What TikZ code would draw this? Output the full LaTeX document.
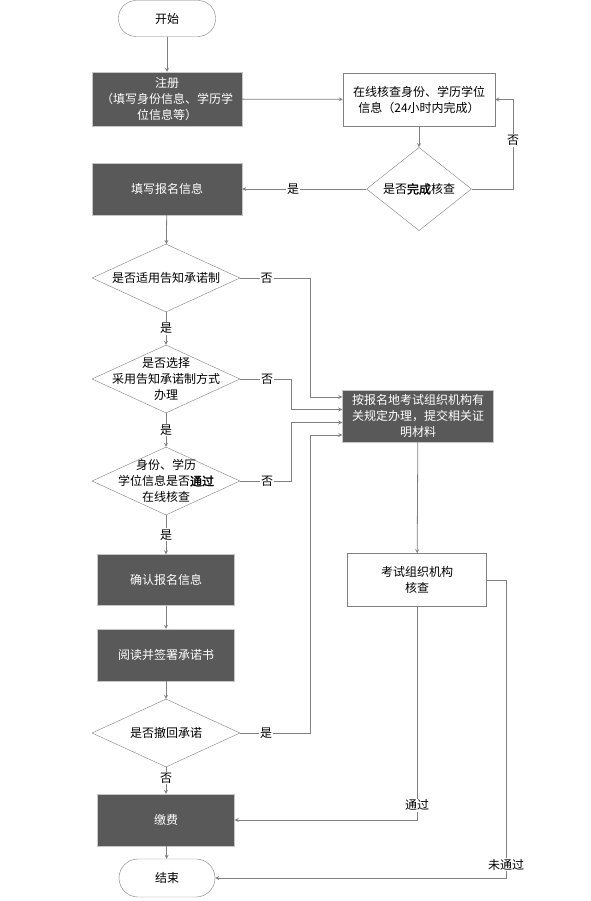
\documentclass[tikz,border=0pt]{standalone}
\usepackage{fontspec}
\setmainfont{Noto Sans CJK SC}[AutoFakeBold=2]
\usetikzlibrary{shapes.geometric}
\definecolor{boxgray}{HTML}{595959}
\definecolor{linegray}{HTML}{808080}

\begin{document}
\begin{tikzpicture}[x=1pt, y=-1pt,
  every node/.style={font=\fontsize{12}{16}\selectfont},
  flow/.style={draw=linegray, line width=0.8pt, -stealth},
  darkbox/.style={rectangle, fill=boxgray, draw=gray!45, text=white, align=center, inner sep=0pt},
  litebox/.style={rectangle, fill=white, draw=linegray, align=center, inner sep=0pt},
  term/.style={rectangle, rounded corners=17.5pt, draw=linegray, fill=white, minimum width=97pt, minimum height=36pt},
  ask/.style={diamond, draw=linegray, fill=white, inner sep=0pt, minimum width=148pt, minimum height=68pt, label={[align=center]center:#1}},
  lbl/.style={fill=white, inner sep=1pt}
]
  \useasboundingbox (0,0) rectangle (590,901);
  \node[term] (start) at (167,18.5) {开始};
  \node[darkbox, minimum width=150pt, minimum height=54pt] (reg) at (167,99) {注册\\（填写身份信息、学历学\\位信息等）};
  \node[litebox, minimum width=152pt, minimum height=53pt] (chk) at (419,99.5) {在线核查身份、学历学位\\信息（24小时内完成）};
  \node[diamond, draw=linegray, fill=white, inner sep=0pt, minimum width=105pt, minimum height=64pt] (done) at (419,189) {是否\textbf{完成}核查};
  \node[darkbox, minimum width=150pt, minimum height=52pt] (fill) at (167,189) {填写报名信息};
  \node[ask={是否适用告知承诺制}] (q1) at (166,278) {};
  \node[ask={是否选择\\采用告知承诺制方式\\办理}] (q2) at (166,379) {};
  \node[ask={身份、学历\\学位信息是否\textbf{通过}\\在线核查}] (q3) at (166,481) {};
  \node[darkbox, minimum width=137pt, minimum height=51pt] (conf) at (166,580) {确认报名信息};
  \node[darkbox, minimum width=137pt, minimum height=52pt] (read) at (166,655) {阅读并签署承诺书};
  \node[ask={是否撤回承诺}] (q4) at (166,733) {};
  \node[darkbox, minimum width=137pt, minimum height=52pt] (pay) at (166,820) {缴费};
  \node[term, minimum width=96pt, minimum height=38pt, rounded corners=19pt] (end) at (167,878) {结束};
  \node[darkbox, minimum width=151pt, minimum height=52pt] (local) at (418,416) {按报名地考试组织机构有\\关规定办理，提交相关证\\明材料};
  \node[litebox, minimum width=139pt, minimum height=53pt] (org) at (417,580) {考试组织机构\\核查};
  \coordinate (in1) at ([yshift=19pt]local.west);
  \coordinate (in2) at ([yshift=6.5pt]local.west);
  \coordinate (in3) at ([yshift=-6.5pt]local.west);
  \coordinate (in4) at ([yshift=-19pt]local.west);

  \draw[flow] (start) -- (reg);
  \draw[flow] (reg) -- (chk);
  \draw[flow] (chk) -- (done);
  \draw[flow] (done.east) -- (513,189) -- (513,99.5) node[lbl, pos=0.54] {否} -- (chk.east);
  \draw[flow] (done.west) -- (fill.east) node[lbl, pos=0.59] {是};
  \draw[flow] (fill) -- (q1);
  \draw[flow] (q1.east) -- (310,278) node[lbl, pos=0.38] {否} -- (310,397) -- (in1);
  \draw[flow] (q1.south) -- (q2.north) node[lbl, midway] {是};
  \draw[flow] (q2.east) -- (291,379) node[lbl, pos=0.53] {否} -- (291,409.5) -- (in2);
  \draw[flow] (q2.south) -- (q3.north) node[lbl, midway] {是};
  \draw[flow] (q3.east) -- (291,481) node[lbl, pos=0.53] {否} -- (291,422.5) -- (in3);
  \draw[flow] (q3.south) -- (conf.north) node[lbl, midway] {是};
  \draw[flow] (conf) -- (read);
  \draw[flow] (read) -- (q4);
  \draw[flow] (q4.east) -- (310,733) node[lbl, pos=0.37] {是} -- (310,435) -- (in4);
  \draw[flow] (q4.south) -- (pay.north) node[lbl, pos=0.4] {否};
  \draw[flow] (pay) -- (end);
  \draw[flow] (local) -- (org);
  \draw[flow] (org.south) -- (org.south |- pay.east) node[lbl, pos=0.93] {通过} -- (pay.east);
  \draw[flow] (org.east) -- (506,580) -- (506,878) node[lbl, pos=0.956] {未通过} -- (end.east);
\end{tikzpicture}
\end{document}
